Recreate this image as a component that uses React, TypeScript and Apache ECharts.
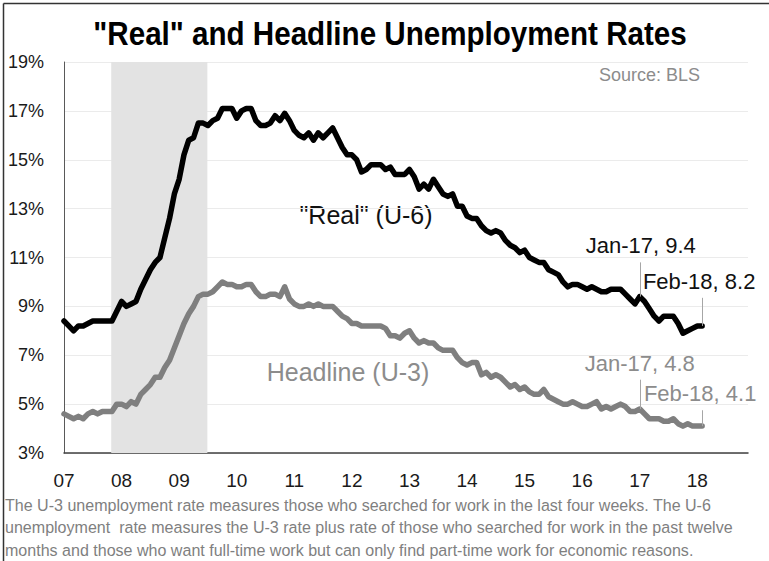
import React, { useEffect, useRef } from "react";
import * as echarts from "echarts";

const startYear = 2007;
const yearLabels = ["07", "08", "09", "10", "11", "12", "13", "14", "15", "16", "17", "18"];
const yTicks = [3, 5, 7, 9, 11, 13, 15, 17, 19];

// Monthly values Jan 2007 – Feb 2018
const u6Real = [
  8.4, 8.2, 8.0, 8.2, 8.2, 8.3, 8.4, 8.4, 8.4, 8.4, 8.4, 8.8,
  9.2, 9.0, 9.1, 9.2, 9.7, 10.1, 10.5, 10.8, 11.0, 11.8, 12.6, 13.6,
  14.2, 15.2, 15.8, 15.9, 16.5, 16.5, 16.4, 16.6, 16.7, 17.1, 17.1, 17.1,
  16.7, 17.0, 17.1, 17.1, 16.6, 16.4, 16.4, 16.5, 16.8, 16.6, 16.9, 16.6,
  16.2, 16.0, 15.9, 16.1, 15.8, 16.1, 15.9, 16.1, 16.3, 15.9, 15.5, 15.2,
  15.2, 15.0, 14.5, 14.6, 14.8, 14.8, 14.8, 14.6, 14.7, 14.4, 14.4, 14.4,
  14.6, 14.3, 13.8, 14.0, 13.8, 14.2, 13.9, 13.6, 13.5, 13.6, 13.1, 13.1,
  12.7, 12.6, 12.6, 12.3, 12.1, 12.0, 12.1, 12.0, 11.7, 11.5, 11.4, 11.2,
  11.3, 11.0, 10.9, 10.8, 10.8, 10.5, 10.4, 10.3, 10.0, 9.8, 9.9, 9.9,
  9.8, 9.7, 9.8, 9.7, 9.6, 9.6, 9.7, 9.7, 9.7, 9.5, 9.3, 9.1,
  9.4, 9.2, 8.9, 8.6, 8.4, 8.6, 8.6, 8.6, 8.3, 7.9, 8.0, 8.1,
  8.2, 8.2,
];
const u3Headline = [
  4.6, 4.5, 4.4, 4.5, 4.4, 4.6, 4.7, 4.6, 4.7, 4.7, 4.7, 5.0,
  5.0, 4.9, 5.1, 5.0, 5.4, 5.6, 5.8, 6.1, 6.1, 6.5, 6.8, 7.3,
  7.8, 8.3, 8.7, 9.0, 9.4, 9.5, 9.5, 9.6, 9.8, 10.0, 9.9, 9.9,
  9.8, 9.8, 9.9, 9.9, 9.6, 9.4, 9.4, 9.5, 9.5, 9.4, 9.8, 9.3,
  9.1, 9.0, 9.0, 9.1, 9.0, 9.1, 9.0, 9.0, 9.0, 8.8, 8.6, 8.5,
  8.3, 8.3, 8.2, 8.2, 8.2, 8.2, 8.2, 8.1, 7.8, 7.8, 7.7, 7.9,
  8.0, 7.7, 7.5, 7.6, 7.5, 7.5, 7.3, 7.2, 7.2, 7.2, 6.9, 6.7,
  6.6, 6.7, 6.7, 6.2, 6.3, 6.1, 6.2, 6.1, 5.9, 5.7, 5.8, 5.6,
  5.7, 5.5, 5.4, 5.4, 5.6, 5.3, 5.2, 5.1, 5.0, 5.0, 5.1, 5.0,
  4.9, 4.9, 5.0, 5.1, 4.8, 4.9, 4.8, 4.9, 5.0, 4.9, 4.7, 4.7,
  4.8, 4.6, 4.4, 4.4, 4.4, 4.3, 4.3, 4.4, 4.2, 4.1, 4.2, 4.1,
  4.1, 4.1,
];
const recessionStart = 2007.82;
const recessionEnd = 2009.49;

const annotationsU6 = [
  { label: "Jan-17, 9.4", index: 120, lineTo: 10.8, offset: [1, -51] },
  { label: "Feb-18, 8.2", index: 133, lineTo: 9.35, offset: [-3, -44] },
];
const annotationsU3 = [
  { label: "Jan-17, 4.8", index: 120, lineTo: 6.0, offset: [0, -46] },
  { label: "Feb-18, 4.1", index: 133, lineTo: 4.75, offset: [-2, -33] },
];

const footerLines = [
  "The U-3 unemployment rate measures those who searched for work in the last four weeks. The U-6",
  "unemployment  rate measures the U-3 rate plus rate of those who searched for work in the past twelve",
  "months and those who want full-time work but can only find part-time work for economic reasons.",
];

const FONT = '"Liberation Sans", Arial, Helvetica, sans-serif';

const toX = (i: number) => startYear + i / 12;

export default function App() {
  const ref = useRef<HTMLDivElement>(null);
  useEffect(() => {
    if (!ref.current) return;
    const chart = echarts.init(ref.current, null, { renderer: "svg" });
    const u6Data = u6Real.map((v, i) => [toX(i), v]);
    const u3Data = u3Headline.map((v, i) => [toX(i), v]);

    const markPts = (ann: any[], src: number[], color: string) => ({
      silent: true,
      symbol: "circle",
      symbolSize: 0.1,
      itemStyle: { color: "rgba(0,0,0,0)" },
      label: {
        show: true,
        position: "inside",
        fontFamily: FONT,
        fontSize: 22,
        color,
      },
      data: ann.map((a) => ({
        coord: [toX(a.index), src[a.index]],
        label: { formatter: a.label, offset: a.offset },
      })),
    });
    const markLns = (ann: any[], src: number[]) => ({
      silent: true,
      symbol: "none",
      lineStyle: { color: "#a6a6a6", width: 1, type: "solid" },
      label: { show: false },
      data: ann.map((a) => [
        { coord: [toX(a.index), src[a.index]] },
        { coord: [toX(a.index), a.lineTo] },
      ]),
    });

    chart.setOption({
      animation: false,
      backgroundColor: "#ffffff",
      textStyle: { fontFamily: FONT },
      grid: { left: 64, right: 21, top: 62, bottom: 108, containLabel: false },
      xAxis: {
        type: "value",
        min: startYear,
        max: 2018.88,
        interval: 1,
        axisLine: { show: true, lineStyle: { color: "#404040", width: 1.5 } },
        axisTick: { show: false },
        splitLine: { show: false },
        axisLabel: {
          fontFamily: FONT,
          fontSize: 19,
          color: "#1a1a1a",
          margin: 18,
          showMaxLabel: false,
          formatter: (v: number) => {
            const idx = Math.round(v) - startYear;
            return yearLabels[idx] ?? "";
          },
        },
      },
      yAxis: {
        type: "value",
        min: yTicks[0],
        max: yTicks[yTicks.length - 1],
        interval: 2,
        axisLine: { show: true, lineStyle: { color: "#595959", width: 1 } },
        axisTick: { show: false },
        splitLine: { show: true, lineStyle: { color: "#ebebeb", width: 1 } },
        axisLabel: {
          fontFamily: FONT,
          fontSize: 18,
          color: "#1a1a1a",
          margin: 20,
          formatter: (v: number) => `${v}%`,
        },
      },
      series: [
        {
          name: "Headline (U-3)",
          type: "line",
          data: u3Data,
          showSymbol: false,
          lineStyle: { color: "#7f7f7f", width: 5.5, join: "round", cap: "round" },
          itemStyle: { color: "#7f7f7f" },
          z: 3,
          markArea: {
            silent: true,
            itemStyle: { color: "#e3e3e3" },
            data: [[{ xAxis: recessionStart }, { xAxis: recessionEnd }]],
          },
          markLine: markLns(annotationsU3, u3Headline),
          markPoint: markPts(annotationsU3, u3Headline, "#8c8c8c"),
        },
        {
          name: '"Real" (U-6)',
          type: "line",
          data: u6Data,
          showSymbol: false,
          lineStyle: { color: "#000000", width: 5.5, join: "round", cap: "round" },
          itemStyle: { color: "#000000" },
          z: 4,
          markLine: markLns(annotationsU6, u6Real),
          markPoint: markPts(annotationsU6, u6Real, "#111111"),
        },
      ],
      graphic: [
        { type: "line", shape: { x1: 3.5, y1: 3.5, x2: 769, y2: 3.5 }, style: { stroke: "#333", lineWidth: 1.5 } },
        { type: "line", shape: { x1: 3.5, y1: 3.5, x2: 3.5, y2: 561 }, style: { stroke: "#333", lineWidth: 1.5 } },
        {
          type: "text",
          x: 390,
          y: 33,
          scaleX: 0.87,
          style: {
            text: '"Real" and Headline Unemployment Rates',
            fontFamily: FONT,
            fontSize: 34,
            fontWeight: "bold",
            fill: "#000",
            align: "center",
            verticalAlign: "middle",
          },
        },
        {
          type: "text",
          x: 700,
          y: 75,
          style: {
            text: "Source: BLS",
            fontFamily: FONT,
            fontSize: 18,
            fill: "#8c8c8c",
            align: "right",
            verticalAlign: "middle",
          },
        },
        {
          type: "text",
          x: 127,
          y: 146,
          rotation: Math.PI / 2,
          style: {
            text: "recession",
            fontFamily: FONT,
            fontSize: 22,
            fill: "#333",
            align: "center",
            verticalAlign: "middle",
          },
        },
        {
          type: "text",
          x: 366,
          y: 215,
          style: {
            text: '"Real" (U-6)',
            fontFamily: FONT,
            fontSize: 25,
            fill: "#111",
            align: "center",
            verticalAlign: "middle",
          },
        },
        {
          type: "text",
          x: 348,
          y: 372,
          style: {
            text: "Headline (U-3)",
            fontFamily: FONT,
            fontSize: 25,
            fill: "#8c8c8c",
            align: "center",
            verticalAlign: "middle",
          },
        },
        ...footerLines.map((t, i) => ({
          type: "text",
          x: 5,
          y: 505 + i * 22.5,
          scaleX: 0.945,
          style: {
            text: t,
            fontFamily: FONT,
            fontSize: 17,
            fill: "#7f7f7f",
            align: "left",
            verticalAlign: "middle",
          },
        })),
      ],
    });
    return () => chart.dispose();
  }, []);
  return (
    <div
      ref={ref}
      style={{ position: "fixed", left: 0, top: 0, width: 769, height: 561, background: "#fff" }}
    />
  );
}
